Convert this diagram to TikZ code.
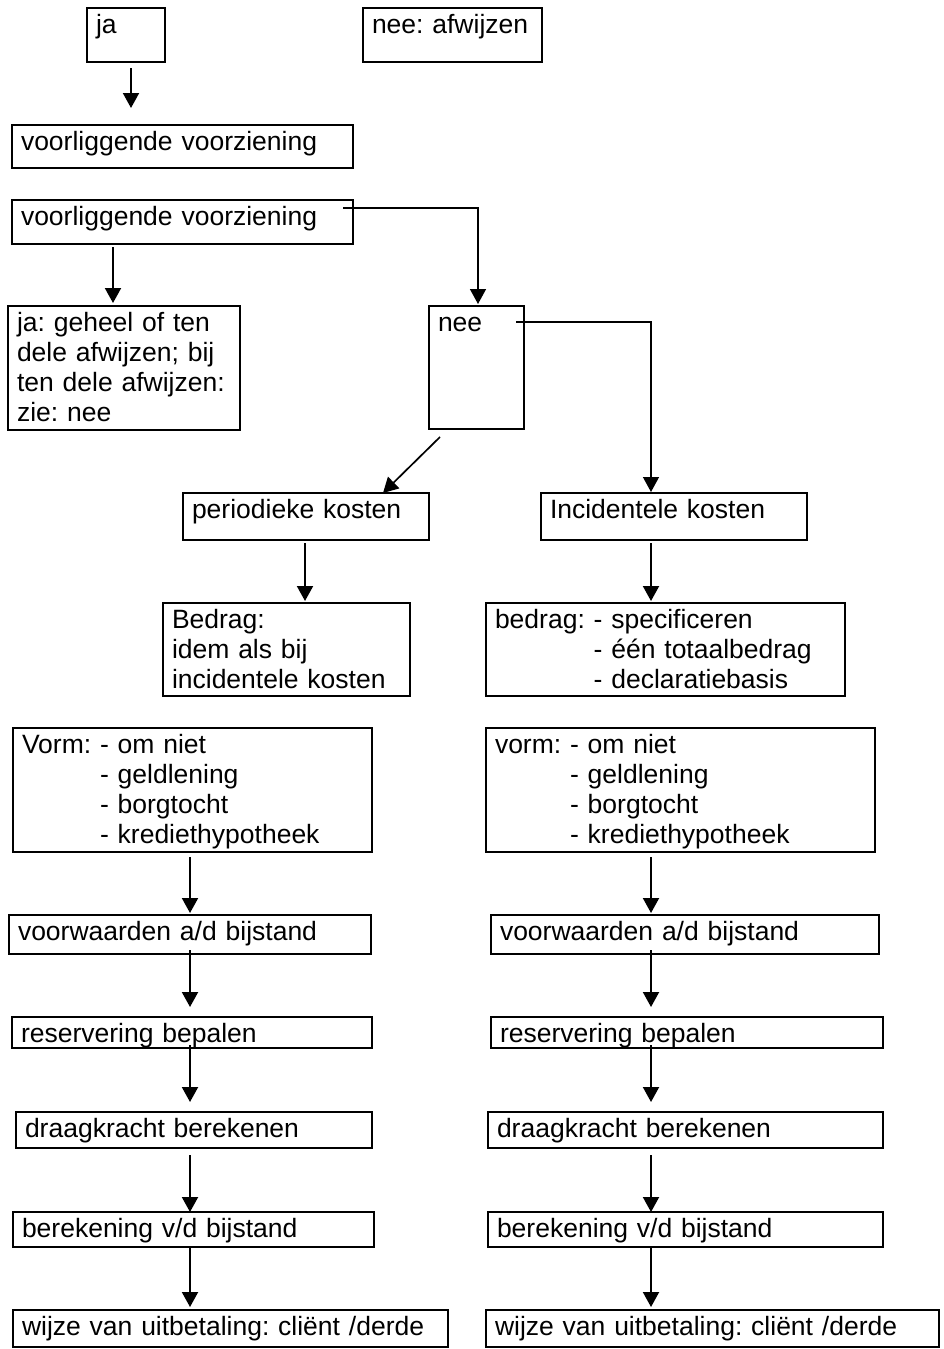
\documentclass[tikz,border=0pt]{standalone}
\usepackage{fontspec}
\setmainfont{Liberation Sans}
\frenchspacing
\usetikzlibrary{calc,arrows.meta}

\begin{document}
\begin{tikzpicture}[x=1pt, y=-1pt,
	box/.style 2 args={draw, line width=2pt, anchor=north west, outer sep=0pt, inner xsep=9pt, inner ysep=0pt, align=left, font=\fontsize{26.5pt}{30pt}\selectfont, text height=25pt, text width=#1-18pt, text depth=#2-25pt},
	arr/.style={-{Triangle[length=15pt,width=16pt]}, line width=2pt},
	elbow/.style={arr, line width=1.5pt}]
			\useasboundingbox (0,0) rectangle (944,1349);

			\coordinate (colL) at (190,0);
			\coordinate (colR) at (651,0);

			\node[box={78pt}{54pt}] (ja) at (87,8) {ja};
			\node[box={179pt}{54pt}] (afwijzen) at (363,8) {nee: afwijzen};
			\node[box={341pt}{43pt}] (vv1) at (12,125) {voorliggende voorziening};
			\node[box={341pt}{44pt}] (vv2) at (12,200) {voorliggende voorziening};
			\node[box={232pt}{124pt}] (jadeel) at (8,306) {ja: geheel of ten\\dele afwijzen; bij\\ten dele afwijzen:\\zie: nee};
			\node[box={95pt}{123pt}] (nee) at (429,306) {nee};

			\node[box={246pt}{47pt}] (periodiek) at (183,493) {periodieke kosten};
			\node[box={266pt}{47pt}] (incidenteel) at (541,493) {Incidentele kosten};
			\node[box={247pt}{93pt}] (bedragP) at (163,603) {Bedrag:\\idem als bij\\incidentele kosten};
			\node[box={359pt}{93pt}] (bedragI) at (486,603) {bedrag: - specificeren\\\phantom{bedrag: }- één totaalbedrag\\\phantom{bedrag: }- declaratiebasis};

			%linker kolom
			\node[box={359pt}{124pt}] (vormL) at (13,728) {Vorm: - om niet\\\phantom{Vorm: }- geldlening\\\phantom{Vorm: }- borgtocht\\\phantom{Vorm: }- krediethypotheek};
			\node[box={362pt}{39pt}] (voorwL) at (9,915) {voorwaarden a/d bijstand};
			\node[box={360pt}{31pt}] (reservL) at (12,1017) {reservering bepalen};
			\node[box={356pt}{36pt}] (draagL) at (16,1112) {draagkracht berekenen};
			\node[box={361pt}{35pt}] (berekL) at (13,1212) {berekening v/d bijstand};
			\node[box={435pt}{37pt}] (wijzeL) at (13,1310) {wijze van uitbetaling: cliënt /derde};

			%rechter kolom
			\node[box={389pt}{124pt}] (vormR) at (486,728) {vorm: - om niet\\\phantom{vorm: }- geldlening\\\phantom{vorm: }- borgtocht\\\phantom{vorm: }- krediethypotheek};
			\node[box={388pt}{39pt}] (voorwR) at (491,915) {voorwaarden a/d bijstand};
			\node[box={392pt}{31pt}] (reservR) at (491,1017) {reservering bepalen};
			\node[box={395pt}{36pt}] (draagR) at (488,1112) {draagkracht berekenen};
			\node[box={395pt}{35pt}] (berekR) at (488,1212) {berekening v/d bijstand};
			\node[box={453pt}{37pt}] (wijzeR) at (486,1310) {wijze van uitbetaling: cliënt /derde};

			\draw[arr] ($(ja.south)+(5,6)$) -- ($(vv1.north west)+(119,-17)$);
			\draw[arr] ($(vv2.south west)+(101,3)$) -- ($(jadeel.north west)+(105,-3)$);
			\draw[elbow] ($(vv2.north east)+(-10,8)$) -| ($(nee.north)+(1.5,-2)$);
			\draw[elbow, line width=1.3pt] ($(nee.north east)+(-8,16)$) -| ($(incidenteel.north west)+(110,-1)$);
			\draw[arr, line width=1.7pt] ($(nee.south west)+(11,8)$) -- ($(periodiek.north west)+(200,0)$);
			\draw[arr] ($(periodiek.south west)+(122,3)$) -- ($(bedragP.north west)+(142,-2)$);
			\draw[arr] ($(incidenteel.south west)+(110,3)$) -- ($(bedragI.north west)+(165,-2)$);

			\draw[arr] ($(vormL.south -| colL)+(0,5)$) -- ($(voorwL.north -| colL)+(0,-2)$);
			\draw[arr] ($(voorwL.south -| colL)+(0,-4)$) -- ($(reservL.north -| colL)+(0,-10)$);
			\draw[arr] ($(reservL.south -| colL)+(0,-3)$) -- ($(draagL.north -| colL)+(0,-10)$);
			\draw[arr] ($(draagL.south -| colL)+(0,7)$) -- (berekL.north -| colL);
			\draw[arr] ($(berekL.south -| colL)+(0,1)$) -- ($(wijzeL.north -| colL)+(0,-3)$);

			\draw[arr] ($(vormR.south -| colR)+(0,5)$) -- ($(voorwR.north -| colR)+(0,-2)$);
			\draw[arr] ($(voorwR.south -| colR)+(0,-4)$) -- ($(reservR.north -| colR)+(0,-10)$);
			\draw[arr] ($(reservR.south -| colR)+(0,-3)$) -- ($(draagR.north -| colR)+(0,-10)$);
			\draw[arr] ($(draagR.south -| colR)+(0,7)$) -- (berekR.north -| colR);
			\draw[arr] ($(berekR.south -| colR)+(0,1)$) -- ($(wijzeR.north -| colR)+(0,-3)$);

		\end{tikzpicture}
\end{document}
